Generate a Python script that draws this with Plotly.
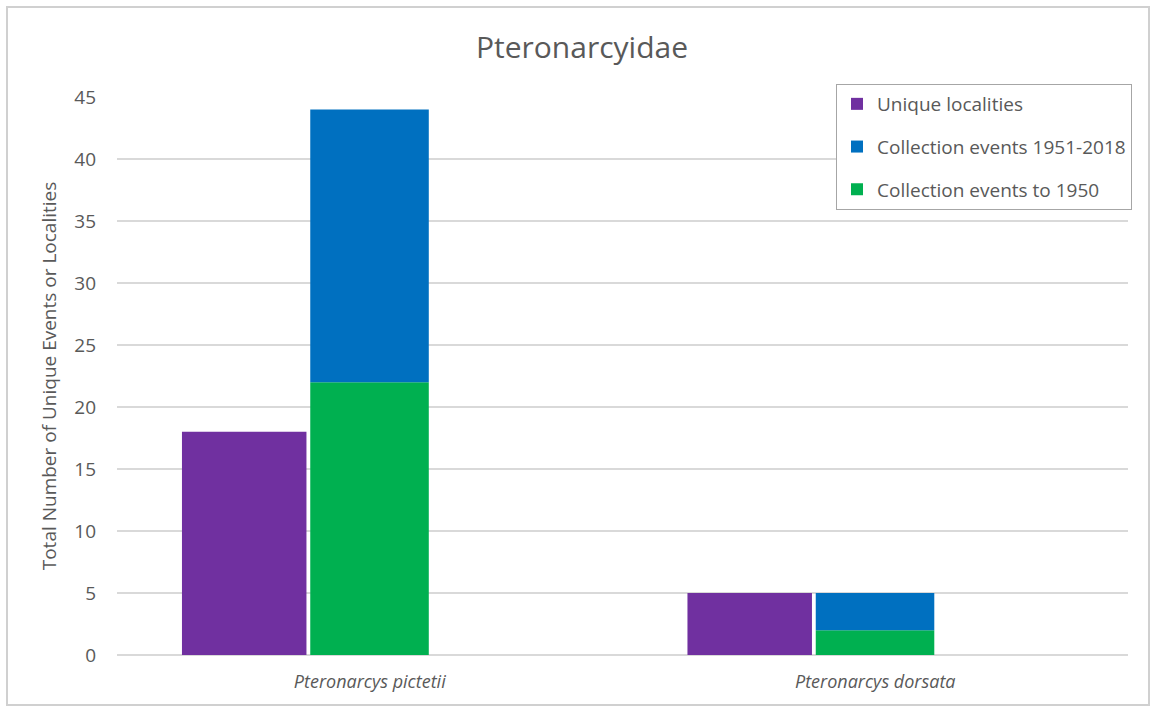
import plotly.graph_objects as go

# Species on the category axis
species = ["Pteronarcys pictetii", "Pteronarcys dorsata"]
species_labels = ["<i>Pteronarcys pictetii</i>", "<i>Pteronarcys dorsata</i>"]

# Counts per species
unique_localities = [18, 5]
events_to_1950 = [22, 2]
events_1951_2018 = [22, 3]

y_ticks = [0, 5, 10, 15, 20, 25, 30, 35, 40, 45]

PURPLE = "#7030A0"
BLUE = "#0070C0"
GREEN = "#00B050"
TEXT = "#595959"
GRID = "#D9D9D9"
FONT = "Open Sans, DejaVu Sans, sans-serif"

W, H = 1151, 707
ML, MR, MT, MB = 117, 23, 97, 52

fig = go.Figure()

fig.add_trace(go.Bar(
    x=species, y=unique_localities, name="Unique localities",
    marker=dict(color=PURPLE, line=dict(width=0)),
    offset=-0.3715, width=0.2463,
    legendgroup="a", legendrank=1,
))
fig.add_trace(go.Bar(
    x=species, y=events_to_1950, name="Collection events to 1950",
    marker=dict(color=GREEN, line=dict(width=0)),
    offset=-0.1177, width=0.2345,
    legendgroup="c", legendrank=3,
))
fig.add_trace(go.Bar(
    x=species, y=events_1951_2018, base=events_to_1950,
    name="Collection events 1951-2018",
    marker=dict(color=BLUE, line=dict(width=0)),
    offset=-0.1177, width=0.2345,
    legendgroup="b", legendrank=2,
))

pw = W - ML - MR
ph = H - MT - MB

# Light frame around the whole chart
fig.add_shape(
    type="rect", xref="paper", yref="paper", layer="below",
    x0=(7 - ML) / pw, x1=(1149 - ML) / pw,
    y0=(H - 705 - MB) / ph, y1=(H - 7 - MB) / ph,
    line=dict(color="#D0D0D0", width=2), fillcolor="rgba(0,0,0,0)",
)

fig.update_layout(
    width=W, height=H,
    margin=dict(l=ML, r=MR, t=MT, b=MB),
    barmode="overlay",
    paper_bgcolor="white", plot_bgcolor="white",
    font=dict(family=FONT, color=TEXT),
    title=dict(
        text="Pteronarcyidae", x=582 / W, xanchor="center",
        y=1 - 47 / H, yanchor="middle",
        font=dict(size=30, color=TEXT, family=FONT),
    ),
    showlegend=True,
    legend=dict(
        x=(836 - ML) / pw, xanchor="left",
        y=1 - (84 - MT) / ph, yanchor="top",
        bgcolor="white", bordercolor="#A6A6A6", borderwidth=1,
        font=dict(size=19, color=TEXT, family=FONT),
        traceorder="grouped", tracegroupgap=15,
        itemwidth=30,
    ),
    xaxis=dict(
        type="category", range=[-0.5, 1.5],
        tickmode="array", tickvals=species, ticktext=species_labels,
        tickfont=dict(size=18, color=TEXT, family=FONT),
        showgrid=False, showline=False, ticks="", zeroline=False,
        ticklabelstandoff=14,
    ),
    yaxis=dict(
        range=[0, 45], tickmode="array", tickvals=y_ticks,
        tickfont=dict(size=19, color=TEXT, family=FONT),
        showgrid=True, gridcolor=GRID, gridwidth=1.5,
        zeroline=True, zerolinecolor=GRID, zerolinewidth=1.5,
        showline=False, ticks="", ticklabelstandoff=20,
        title=dict(
            text="Total Number of Unique Events or Localities",
            font=dict(size=19, color=TEXT, family=FONT),
            standoff=12,
        ),
    ),
)

fig.write_html("out.html")
